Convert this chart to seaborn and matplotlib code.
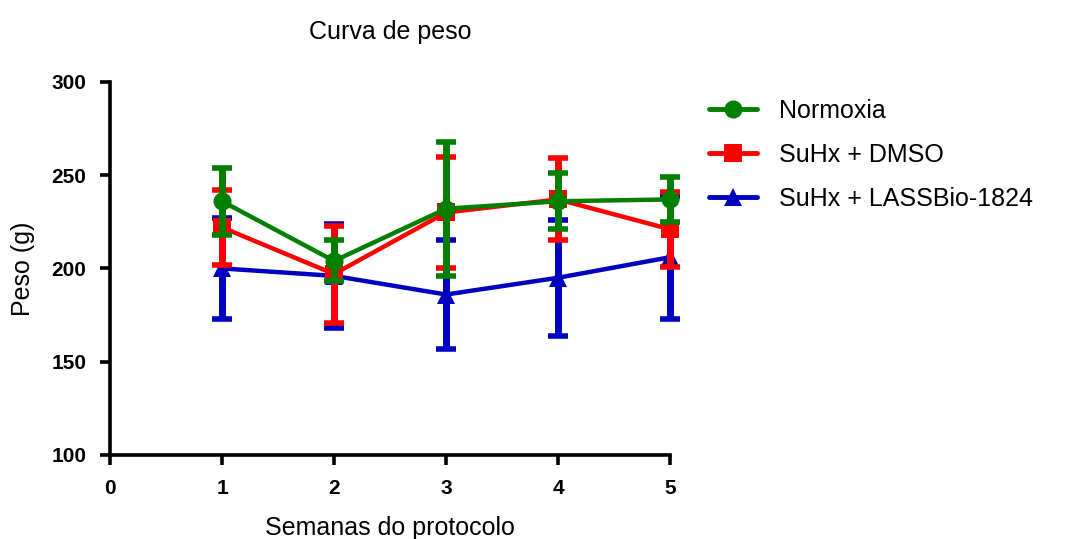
import numpy as np
import pandas as pd
import seaborn as sns
import matplotlib
matplotlib.use("Agg")
import matplotlib.pyplot as plt

# dados (media +- DP)
semanas = [1, 2, 3, 4, 5]
grupos = ["Normoxia", "SuHx + DMSO", "SuHx + LASSBio-1824"]
normoxia_media = [236, 204, 232, 236, 237]
normoxia_dp = [18, 11, 36, 15, 12]
dmso_media = [222, 197, 230, 237, 221]
dmso_dp = [20, 26, 30, 22, 20]
lass_media = [200, 196, 186, 195, 206]
lass_dp = [27, 28, 29, 31, 33]

cores = {"Normoxia": "#007F00", "SuHx + DMSO": "#FF0000", "SuHx + LASSBio-1824": "#0000C0"}
marcas = {"Normoxia": "o", "SuHx + DMSO": "s", "SuHx + LASSBio-1824": "^"}

df = pd.DataFrame({
    "Semana": semanas * 3,
    "Grupo": np.repeat(grupos, len(semanas)),
    "Peso": normoxia_media + dmso_media + lass_media,
    "DP": normoxia_dp + dmso_dp + lass_dp,
})

sns.set_style("ticks")
plt.rcParams["font.family"] = ["Liberation Sans", "DejaVu Sans"]
for k in ["text.color", "axes.labelcolor", "xtick.color", "ytick.color", "axes.edgecolor"]:
    plt.rcParams[k] = "black"

fig = plt.figure(figsize=(10.79, 5.39), dpi=100)
ax = fig.add_axes([0.102, 0.156, 0.519, 0.692])

sns.lineplot(data=df, x="Semana", y="Peso", hue="Grupo", style="Grupo",
             hue_order=grupos, style_order=grupos, palette=cores, markers=marcas,
             dashes=False, errorbar=None, linewidth=3.2, markersize=13,
             markeredgewidth=0, ax=ax, legend=True)

# barras de erro, azul embaixo, verde em cima
zs = {"Normoxia": 6, "SuHx + DMSO": 5, "SuHx + LASSBio-1824": 4}
for g in grupos:
    d = df[df["Grupo"] == g]
    ax.errorbar(d["Semana"], d["Peso"], yerr=d["DP"], fmt="none", ecolor=cores[g],
                elinewidth=5, capsize=7, capthick=4, zorder=zs[g], clip_on=False)
for line in ax.lines:
    line.set_clip_on(False)
for i, line in enumerate(ax.lines[:3]):
    line.set_zorder([6.5, 5.5, 4.5][i])

ax.set_xlim(0, 5)
ax.set_ylim(100, 300)
ax.set_xticks(range(0, 6))
ax.set_yticks(range(100, 301, 50))
sns.despine(ax=ax)
for s in ["left", "bottom"]:
    ax.spines[s].set_linewidth(2.6)
ax.tick_params(width=2.6, length=7, labelsize=15, pad=10)
for t in ax.get_xticklabels() + ax.get_yticklabels():
    t.set_fontweight("bold")

ax.set_xlabel("Semanas do protocolo", fontsize=18, labelpad=13)
ax.set_ylabel("Peso (g)", fontsize=18, labelpad=12)
ax.set_title("Curva de peso", fontsize=18, pad=31)

leg = ax.legend(loc="upper left", bbox_to_anchor=(1.03, 1.015), frameon=False, fontsize=18,
                handlelength=1.9, labelspacing=0.8, handletextpad=0.9)
for h in leg.legend_handles:
    h.set_linewidth(3.5)

fig.savefig("out.png", dpi=100)
